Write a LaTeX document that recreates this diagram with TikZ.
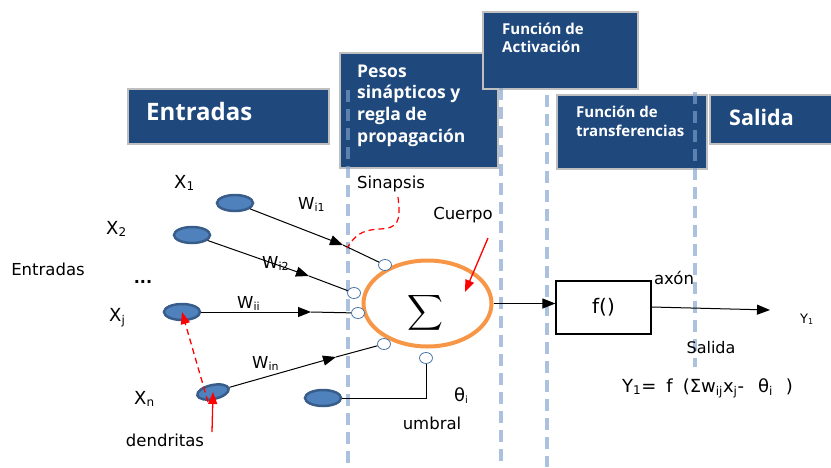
\documentclass[tikz,border=0pt]{standalone}
\usepackage{amsmath}
\usepackage{fontspec}
\setmainfont{DejaVu Sans}
\newfontfamily\hfont{Open Sans}
\usetikzlibrary{arrows.meta,shapes.geometric}
\definecolor{hdrblue}{HTML}{1F497D}
\definecolor{hdrline}{HTML}{BFBFBF}
\definecolor{guideblue}{HTML}{7EA0CD}
\definecolor{inpfill}{HTML}{4F81BD}
\definecolor{inpline}{HTML}{385D8A}
\definecolor{somaorange}{HTML}{F79646}
\definecolor{synline}{HTML}{4A74A8}
\newcommand{\fs}[1]{\fontsize{#1}{#1}\selectfont}
\newcommand{\fsb}[2]{\fontsize{#1}{#2}\selectfont}
\begin{document}
\begin{tikzpicture}[x=1pt,y=-1pt,
  hdr/.style={draw=hdrline, line width=1.5pt, fill=hdrblue, inner sep=0pt, anchor=north west},
  hdrtxt/.style={text=white, inner sep=0pt, align=left, anchor=west},
  guide/.style={draw=guideblue, line width=4pt, dash pattern=on 12pt off 7pt, opacity=.65},
  inp/.style={ellipse, draw=inpline, fill=inpfill, line width=2.5pt, minimum width=36pt, minimum height=16pt, inner sep=0pt},
  syn/.style={ellipse, draw=synline, fill=white, line width=0.8pt, minimum width=13pt, minimum height=11pt, inner sep=0pt},
  wire/.style={line width=1pt, black},
  tip/.style={-{Triangle[length=13pt,width=10pt]}},
  redarr/.style={red, line width=1.3pt, -{Triangle[length=12pt,width=9pt]}},
  reddash/.style={dash pattern=on 6pt off 4pt},
  lbl/.style={inner sep=0pt, font=\fs{16.5}},
  big/.style={inner sep=0pt, font=\fs{18}, anchor=base west}
]
\useasboundingbox (0,0) rectangle (831,467);

% header boxes
\node[hdr, minimum width=201pt, minimum height=55pt] (hE) at (127,88) {};
\node[hdr, minimum width=158pt, minimum height=115pt] (hP) at (339,52) {};
\node[hdr, minimum width=155pt, minimum height=77pt] (hA) at (482,11) {};
\node[hdr, minimum width=150pt, minimum height=74pt] (hT) at (556,94) {};
\node[hdr, minimum width=130pt, minimum height=49pt] (hS) at (709,94) {};

\node[hdrtxt, font=\hfont\bfseries\fs{24}] (tE) at (146,111) {Entradas};
\node[hdrtxt, anchor=base west, font=\hfont\bfseries\fsb{17.5}{21.6}] (tP) at (357,142)
  {Pesos\\sinápticos y\\regla de\\propagación};
\node[hdrtxt, anchor=base west, font=\hfont\bfseries\fsb{15}{18}] (tA) at (502,52)
  {Función de\\Activación};
\node[hdrtxt, anchor=base west, font=\hfont\bfseries\fsb{15}{18.5}] (tT) at (576,136)
  {Función de\\transferencias};
\node[hdrtxt, font=\hfont\bfseries\fs{21.5}] (tS) at (729,117) {Salida};

% dashed guides
\coordinate (g1a) at (348,90);  \coordinate (g1b) at (348,467);
\coordinate (g2a) at (501,88);  \coordinate (g2b) at (501,467);
\coordinate (g3a) at (547,95);  \coordinate (g3b) at (547,467);
\coordinate (g4a) at (695,92);  \coordinate (g4b) at (695,367);
\draw[guide] (g1a) -- (g1b);
\draw[guide] (g2a) -- (g2b);
\draw[guide] (g3a) -- (g3b);
\draw[guide] (g4a) -- (g4b);

% soma
\node[ellipse, draw=somaorange, line width=4pt, minimum width=128pt, minimum height=86pt, inner sep=0pt] (soma) at (427.5,303.5) {};
\node[inner sep=0pt] (sig) at (425,313) {\fs{30}$\displaystyle\sum$};

% synapses
\node[syn] (s1) at (385,265) {};
\node[syn] (s2) at (354,293) {};
\node[syn] (s3) at (358,313) {};
\node[syn] (s4) at (384,344) {};
\node[syn] (s5) at (426,358) {};

% inputs
\node[inp] (x1) at (235,203) {};
\node[inp] (x2) at (192,235) {};
\node[inp] (xj) at (182,312) {};
\node[inp, rotate=12, minimum width=32pt, minimum height=14pt] (xn) at (213,392) {};
\node[inp] (u) at (323,398) {};

% arrowhead tips
\coordinate (t1) at (343,245);
\coordinate (t2) at (309,276);
\coordinate (tj) at (311,312);
\coordinate (tn) at (336,357);

\draw[wire, tip] (x1) -- (t1);  \draw[wire] (t1) -- (s1);
\draw[wire, tip] (x2) -- (t2);  \draw[wire] (t2) -- (s2);
\draw[wire, tip] (xj.east) -- (tj);  \draw[wire] (tj) -- (s3);
\draw[wire, tip] (xn) -- (tn);  \draw[wire] (tn) -- (s4);
\draw[wire] (u.east) -| (s5.south);

% f box and output
\node[draw, line width=1.2pt, minimum width=95pt, minimum height=53pt, inner sep=0pt, font=\fs{20}] (fb) at (603.5,307.5) {f()};
\draw[wire, tip] (soma.east) -- (soma.east -| fb.west);
\coordinate (yout) at (770,310);
\draw[wire, tip] (fb.east |- 0,307) -- (yout);

% labels
\node[big] (lx1) at (174,188) {X\textsubscript{\fs{12}1}};
\node[big] (lx2) at (106,234) {X\textsubscript{\fs{12}2}};
\node[big] (lxj) at (109,321) {X\textsubscript{\fs{12}j}};
\node[big] (lxn) at (134,404) {X\textsubscript{\fs{12}n}};
\node[big, font=\fs{16.5}] (lw1) at (298,209) {W\textsubscript{\fs{11}i1}};
\node[big, font=\fs{16.5}] (lw2) at (262,268) {W\textsubscript{\fs{11}i2}};
\node[big, font=\fs{16.5}] (lwj) at (237,308) {W\textsubscript{\fs{11}ii}};
\node[big, font=\fs{16.5}] (lwn) at (252,368) {W\textsubscript{\fs{11}in}};
\node[inner sep=0pt, font=\bfseries\fs{16}, anchor=base] (dots) at (143,283) {...};

\node[lbl] (lent) at (48,269) {Entradas};
\node[lbl] (lsin) at (391,184) {Sinapsis};
\node[lbl] (lcue) at (463,215) {Cuerpo};
\node[lbl] (lumb) at (432,423) {umbral};
\node[inner sep=0pt, font=\fs{18}, anchor=base west] (lth) at (454,401) {θ\textsubscript{\fs{10}i}};
\node[lbl] (lden) at (165,440) {dendritas};
\node[lbl] (lax) at (674,278) {axón};
\node[lbl, font=\fs{16}] (lsal) at (711,348) {Salida};
\node[inner sep=0pt, font=\fs{13}, anchor=base west] (ly) at (800,323) {Y\textsubscript{\fs{8}1}};
\node[inner sep=0pt, font=\fs{18}, anchor=base west] (lform) at (622,392)
  {Y\textsubscript{\fs{12}1}=\hspace{10pt}f\hspace{10pt}(Σw\textsubscript{\fs{12}ij}x\textsubscript{\fs{12}j}-\hspace{14pt}θ\textsubscript{\fs{12}i}\hspace{13pt})};

% red annotations
\coordinate (rs0) at (398,197);
\coordinate (rs1) at (347,248);
\draw[red, line width=1.2pt, reddash] (rs0) .. controls (401,222) and (398,228) .. (380,229)
  .. controls (360,230) and (355,236) .. (rs1);
\coordinate (rc0) at (488,238);
\coordinate (rc1) at (465,292);
\draw[redarr] (rc0) -- (rc1);
\coordinate (rd0) at (208,402);
\draw[redarr, reddash] (rd0) -- (xj.center);
\coordinate (rd1) at (212,432);
\draw[redarr] (rd1) -- (xn.center);
\end{tikzpicture}
\end{document}
